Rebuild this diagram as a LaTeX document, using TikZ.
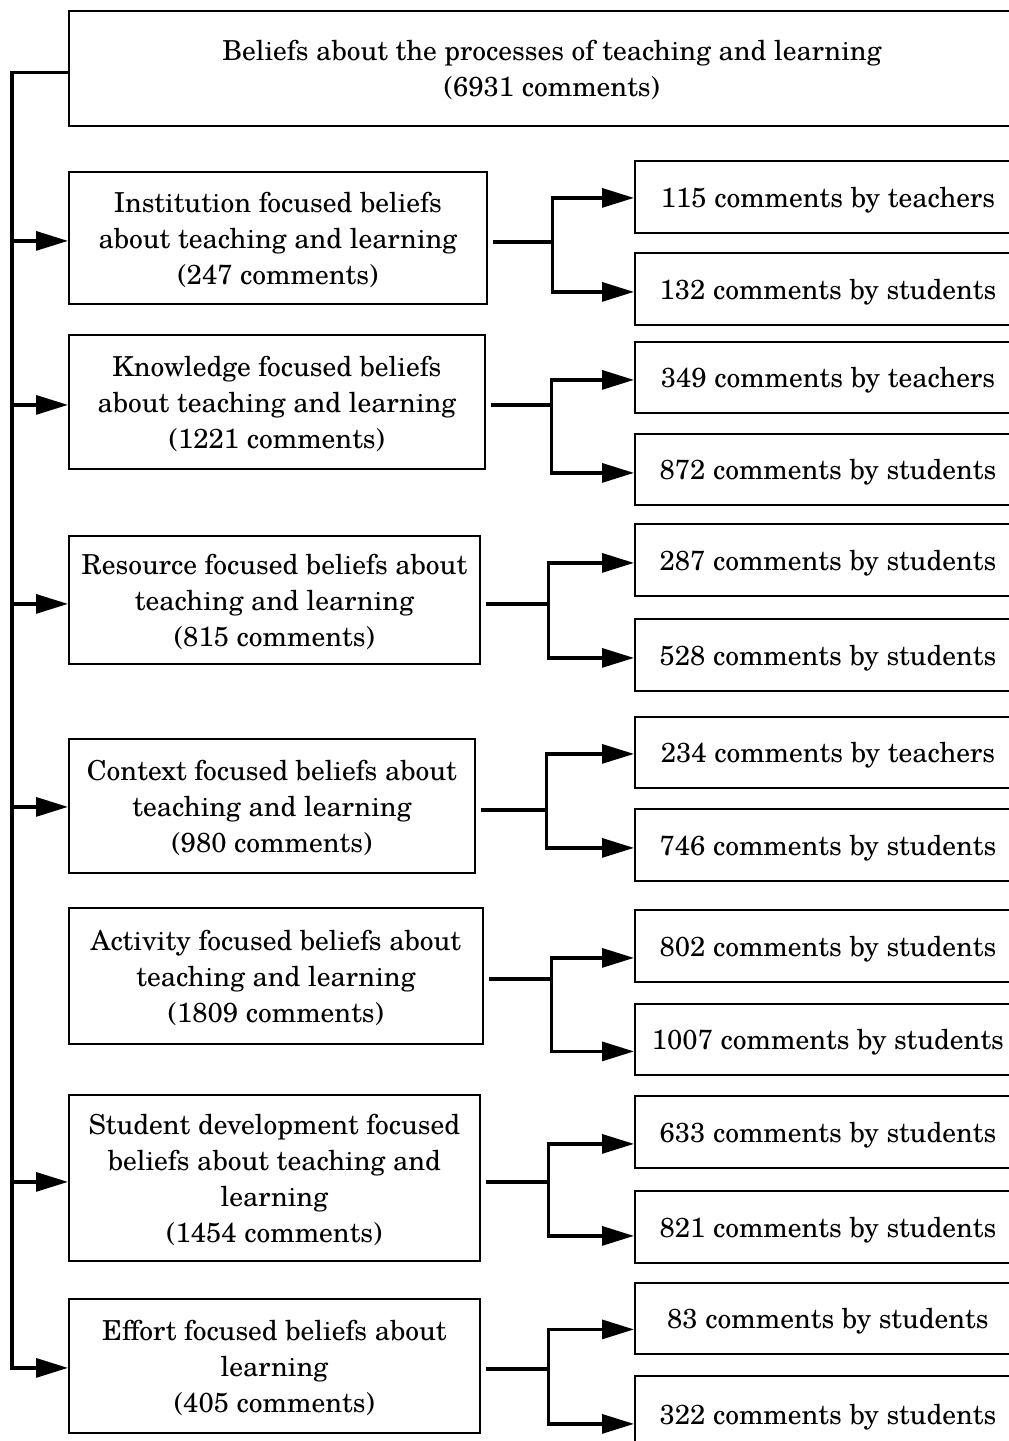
\documentclass[tikz,border=0pt]{standalone}
\usepackage{fontspec}
\setmainfont{texgyreschola}[Extension=.otf, UprightFont=*-regular, BoldFont=*-bold, ItalicFont=*-italic, BoldItalicFont=*-bolditalic]
\usetikzlibrary{arrows.meta}

\begin{document}
\begin{tikzpicture}[x=1pt,y=-1pt,
  box/.style={draw, line width=1.8pt, align=center, inner sep=0pt, anchor=north west,
              text depth=0pt, font=\fontsize{27.5}{36}\selectfont},
  midbox/.style={box, minimum height=#1},
  leafbox/.style={box, minimum width=386pt, minimum height=#1},
  conn/.style={line width=3.2pt},
  arr/.style={conn, -{Triangle[length=32pt,width=19pt]}}]

\clip (0,0) rectangle (1009,1441);

% root
\node[box, minimum width=966pt, minimum height=115pt] (top) at (68,10)
  {Beliefs about the processes of teaching and learning\\(6931 comments)};

% categories
\node[midbox=132pt, minimum width=418pt] (ins) at (68,171)
  {Institution focused beliefs\\about teaching and learning\\(247 comments)};
\node[midbox=134pt, minimum width=416pt] (kno) at (68,334)
  {Knowledge focused beliefs\\about teaching and learning\\(1221 comments)};
\node[midbox=128pt, minimum width=411pt] (res) at (68,535)
  {Resource focused beliefs about\\teaching and learning\\(815 comments)};
\node[midbox=134pt, minimum width=406pt] (con) at (68,738)
  {Context focused beliefs about\\teaching and learning\\(980 comments)};
\node[midbox=136pt, minimum width=414pt] (act) at (68,907)
  {Activity focused beliefs about\\teaching and learning\\(1809 comments)};
\node[midbox=166pt, minimum width=411pt] (stu) at (68,1094)
  {Student development focused\\beliefs about teaching and\\learning\\(1454 comments)};
\node[midbox=134pt, minimum width=411pt] (eff) at (68,1298)
  {Effort focused beliefs about\\learning\\(405 comments)};

% comment counts
\node[leafbox=72pt] (r1)  at (634,160)  {115 comments by teachers};
\node[leafbox=72pt] (r2)  at (634,252)  {132 comments by students};
\node[leafbox=71pt] (r3)  at (634,341)  {349 comments by teachers};
\node[leafbox=71pt] (r4)  at (634,433)  {872 comments by students};
\node[leafbox=72pt] (r5)  at (634,523)  {287 comments by students};
\node[leafbox=72pt] (r6)  at (634,618)  {528 comments by students};
\node[leafbox=71pt] (r7)  at (634,716)  {234 comments by teachers};
\node[leafbox=72pt] (r8)  at (634,808)  {746 comments by students};
\node[leafbox=72pt] (r9)  at (634,909)  {802 comments by students};
\node[leafbox=71pt] (r10) at (634,1003) {1007 comments by students};
\node[leafbox=72pt] (r11) at (634,1095) {633 comments by students};
\node[leafbox=72pt] (r12) at (634,1190) {821 comments by students};
\node[leafbox=71pt] (r13) at (634,1282) {83 comments by students};
\node[leafbox=76pt] (r14) at (634,1375) {322 comments by students};

% spine
\coordinate (spine) at (12,72);
\path ([yshift=-3pt]ins.west) coordinate (insin)
      ([yshift=-3pt]kno.west) coordinate (knoin)
      ([yshift=-4pt]res.west) coordinate (resin)
      ([yshift=-1pt]con.west) coordinate (conin)
      ([yshift=-4pt]stu.west) coordinate (stuin)
      ([yshift=-2pt]eff.west) coordinate (effin);
\draw[arr] ([yshift=-4pt]top.west) -| (effin -| spine) -- (effin);
\foreach \n in {insin,knoin,resin,conin,stuin}
  \draw[arr] (\n -| spine) -- (\n);

% branches
\path ([xshift=5pt,yshift=-4pt]ins.east) coordinate (insout)
      ([xshift=5pt,yshift=-3pt]kno.east) coordinate (knoout)
      ([xshift=5pt,yshift=-4pt]res.east) coordinate (resout)
      ([xshift=5pt,yshift=-4pt]con.east) coordinate (conout)
      ([xshift=5pt,yshift=-3pt]act.east) coordinate (actout)
      ([xshift=5pt,yshift=-4pt]stu.east) coordinate (stuout)
      ([xshift=5pt,yshift=-3pt]eff.east) coordinate (effout);

\draw[arr] (insout) -- ++(60,0) |- ([yshift=-1pt]r1.west);
\draw[arr] (insout) -- ++(60,0) |- ([yshift=-3pt]r2.west);
\draw[arr] (knoout) -- ++(61,0) |- ([yshift=-2.5pt]r3.west);
\draw[arr] (knoout) -- ++(61,0) |- ([yshift=-3.5pt]r4.west);
\draw[arr] (resout) -- ++(63,0) |- ([yshift=-3pt]r5.west);
\draw[arr] (resout) -- ++(63,0) |- ([yshift=-3pt]r6.west);
\draw[arr] (conout) -- ++(66,0) |- ([yshift=-1.5pt]r7.west);
\draw[arr] (conout) -- ++(66,0) |- ([yshift=-3pt]r8.west);
\draw[arr] (actout) -- ++(63,0) |- ([yshift=-12pt]r9.west);
\draw[arr] (actout) -- ++(63,0) |- ([yshift=-12pt]r10.west);
\draw[arr] (stuout) -- ++(63,0) |- ([yshift=-12pt]r11.west);
\draw[arr] (stuout) -- ++(63,0) |- ([yshift=-9pt]r12.west);
\draw[arr] (effout) -- ++(63,0) |- ([yshift=-11pt]r13.west);
\draw[arr] (effout) -- ++(63,0) |- ([yshift=-10pt]r14.west);

\end{tikzpicture}
\end{document}
